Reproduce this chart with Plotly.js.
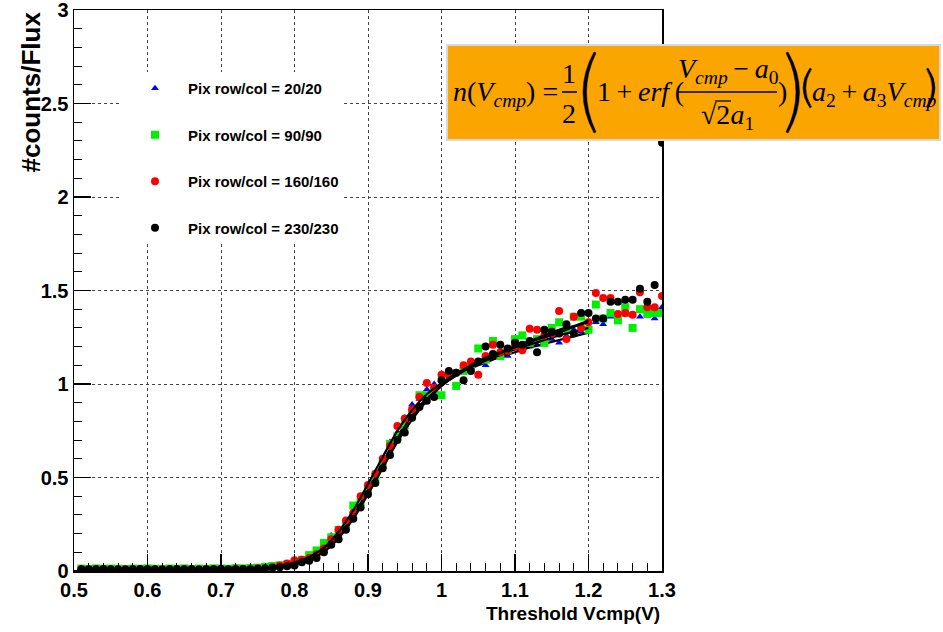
<!DOCTYPE html>
<html>
<head>
<meta charset="utf-8">
<script src="https://cdn.plot.ly/plotly-3.0.1.min.js"></script>
<style>html,body{margin:0;padding:0;background:#fff;}#chart{width:943px;height:632px;}</style>
</head>
<body>
<div id="chart"></div>
<script>
// ---- data ----
const vcmp = [0.51,0.52,0.53,0.54,0.55,0.56,0.57,0.58,0.59,0.60,
  0.61,0.62,0.63,0.64,0.65,0.66,0.67,0.68,0.69,0.70,
  0.71,0.72,0.73,0.74,0.75,0.76,0.77,0.78,0.79,0.80,
  0.81,0.82,0.83,0.84,0.85,0.86,0.87,0.88,0.89,0.90,
  0.91,0.92,0.93,0.94,0.95,0.96,0.97,0.98,0.99,1.00,
  1.01,1.02,1.03,1.04,1.05,1.06,1.07,1.08,1.09,1.10,
  1.11,1.12,1.13,1.14,1.15,1.16,1.17,1.18,1.19,1.20,
  1.21,1.22,1.23,1.24,1.25,1.26,1.27,1.28,1.29,1.30];

const pix20 = [0.010,0.009,0.010,0.004,0.010,0.011,0.009,0.010,0.008,0.010,
  0.009,0.011,0.010,0.009,0.010,0.008,0.011,0.010,0.009,0.010,
  0.012,0.010,0.011,0.013,0.015,0.018,0.020,0.026,0.032,0.042,
  0.055,0.072,0.100,0.130,0.190,0.220,0.260,0.320,0.380,0.450,
  0.500,0.600,0.690,0.740,0.820,0.890,0.920,0.970,1.000,1.020,
  1.040,1.060,1.090,1.080,1.120,1.100,1.150,1.160,1.150,1.190,
  1.200,1.200,1.210,1.230,1.240,1.220,1.260,1.290,1.280,1.300,
  1.330,1.320,1.360,1.350,1.370,1.370,1.360,1.390,1.350,1.410];

const pix90 = [0.013,0.011,0.014,0.012,0.013,0.012,0.011,0.013,0.012,0.014,
  0.012,0.011,0.013,0.012,0.014,0.011,0.013,0.012,0.014,0.013,
  0.012,0.015,0.014,0.016,0.018,0.022,0.027,0.030,0.035,0.045,
  0.060,0.085,0.110,0.150,0.180,0.220,0.250,0.350,0.370,0.440,
  0.500,0.570,0.680,0.720,0.780,0.840,0.940,0.940,0.970,0.940,
  1.050,0.990,1.070,1.090,1.190,1.130,1.230,1.150,1.180,1.240,
  1.260,1.220,1.240,1.220,1.300,1.330,1.290,1.360,1.360,1.290,
  1.425,1.350,1.380,1.340,1.410,1.300,1.400,1.375,1.380,1.380];

const pix160 = [0.010,0.006,0.009,0.010,0.008,0.003,0.010,0.009,0.004,0.010,
  0.008,0.010,0.009,0.003,0.010,0.009,0.008,0.010,0.009,0.011,
  0.006,0.012,0.009,0.010,0.015,0.014,0.020,0.030,0.040,0.057,
  0.060,0.070,0.090,0.120,0.170,0.220,0.270,0.310,0.400,0.460,
  0.520,0.600,0.670,0.775,0.815,0.865,0.930,1.005,0.980,1.050,
  1.050,1.060,1.100,1.120,1.050,1.150,1.210,1.170,1.180,1.200,
  1.180,1.295,1.290,1.260,1.270,1.390,1.240,1.360,1.300,1.330,
  1.486,1.460,1.460,1.375,1.380,1.370,1.490,1.410,1.410,1.470];

const pix230 = [0.010,0.009,0.010,0.011,0.009,0.010,0.008,0.010,0.011,0.009,
  0.010,0.008,0.010,0.011,0.009,0.010,0.008,0.009,0.010,0.011,
  0.009,0.010,0.011,0.010,0.012,0.015,0.018,0.020,0.025,0.030,
  0.047,0.055,0.070,0.100,0.140,0.170,0.220,0.280,0.340,0.410,
  0.470,0.550,0.620,0.700,0.740,0.820,0.877,0.910,0.930,1.020,
  1.070,1.060,1.020,1.070,1.120,1.200,1.160,1.210,1.190,1.220,
  1.210,1.230,1.170,1.290,1.280,1.270,1.320,1.270,1.380,1.380,
  1.350,1.350,1.440,1.440,1.450,1.450,1.510,1.440,1.530,2.290];

// fitted curves
const fitV = [0.50,0.52,0.54,0.56,0.58,0.60,0.62,0.64,0.66,0.68,
  0.70,0.72,0.74,0.76,0.78,0.80,0.82,0.84,0.86,0.88,
  0.90,0.92,0.94,0.96,0.98,1.00,1.02,1.04,1.06,1.08,
  1.10,1.12,1.14,1.16,1.18,1.20];
const fit20 = [0,0,0,0,0,0.001,0.001,0.002,0.002,0.003,
  0.004,0.006,0.010,0.015,0.024,0.040,0.068,0.115,0.195,0.300,
  0.440,0.580,0.720,0.835,0.925,0.995,1.045,1.085,1.115,1.145,
  1.170,1.195,1.215,1.235,1.255,1.275];
const fit90 = [0,0,0,0,0,0.001,0.001,0.002,0.002,0.003,
  0.004,0.006,0.010,0.016,0.025,0.041,0.068,0.112,0.190,0.295,
  0.430,0.570,0.710,0.830,0.920,0.990,1.045,1.090,1.125,1.155,
  1.185,1.210,1.235,1.260,1.280,1.300];
const fit160 = [0,0,0,0,0,0.001,0.001,0.002,0.002,0.003,
  0.005,0.007,0.011,0.017,0.027,0.045,0.075,0.125,0.210,0.325,
  0.465,0.610,0.750,0.860,0.945,1.005,1.055,1.095,1.130,1.165,
  1.195,1.225,1.250,1.275,1.305,1.330];
const fit230 = [0,0,0,0,0,0.001,0.001,0.001,0.002,0.002,
  0.003,0.005,0.008,0.013,0.021,0.036,0.060,0.102,0.175,0.280,
  0.410,0.550,0.690,0.810,0.910,0.990,1.050,1.100,1.140,1.170,
  1.200,1.230,1.260,1.290,1.310,1.340];

const seriesNames = ['Pix row/col = 20/20','Pix row/col = 90/90','Pix row/col = 160/160','Pix row/col = 230/230'];
const xTickVals = [0.5,0.6,0.7,0.8,0.9,1.0,1.1,1.2,1.3];
const xTickText = ['0.5','0.6','0.7','0.8','0.9','1','1.1','1.2','1.3'];
const yTickVals = [0,0.5,1,1.5,2,2.5,3];
const yTickText = ['0','0.5','1','1.5','2','2.5','3'];
const xTitle = 'Threshold Vcmp(V)';
const yTitle = '#counts/Flux';

// ---- styling ----
const pts = [pix20, pix90, pix160, pix230];
const fits = [fit20, fit90, fit160, fit230];
const colors = ['#0000ff','#00ee00','#ff0000','#000000'];
const symbols = ['triangle-up','square','circle','circle'];
const sizes = [7,8,8,8];

const traces = [];
for (let i = 0; i < 4; i++) {
  traces.push({
    x: vcmp, y: pts[i], type: 'scatter', mode: 'markers', name: seriesNames[i],
    legendgroup: 'g' + i,
    marker: {color: colors[i], symbol: symbols[i], size: sizes[i], line: {width: 0}},
    hoverinfo: 'x+y'
  });
  traces.push({
    x: fitV, y: fits[i], type: 'scatter', mode: 'lines', showlegend: false,
    legendgroup: 'g' + i,
    line: {color: '#000', width: 2.2, shape: 'spline', smoothing: 0.8},
    hoverinfo: 'skip'
  });
}

// pixel -> paper helpers (plot area 74..662 x 10..571)
const PX = p => (p - 74) / 588;
const PY = p => (571 - p) / 561;

const serif = {family: 'Liberation Serif, "Times New Roman", serif', size: 28, color: '#000'};
const TH = '\u2009';
function txt(text, px, pyTop, anchor, size) {
  return {text: text, x: PX(px), y: PY(pyTop), xref: 'paper', yref: 'paper',
    xanchor: anchor, yanchor: 'top', showarrow: false, borderpad: 0,
    font: Object.assign({}, serif, size ? {size: size} : {})};
}
function path(cmds) {
  return cmds.map(c => {
    let s = c[0];
    for (let k = 1; k < c.length; k += 2) s += ' ' + PX(c[k]).toFixed(5) + ',' + PY(c[k + 1]).toFixed(5);
    return s;
  }).join(' ') + ' Z';
}
function pshape(cmds) {
  return {type: 'path', xref: 'paper', yref: 'paper', layer: 'above', path: path(cmds),
    fillcolor: '#000', line: {color: '#000', width: 0.5}};
}
function lshape(x0, y0, x1, y1, w) {
  return {type: 'line', xref: 'paper', yref: 'paper', layer: 'above',
    x0: PX(x0), y0: PY(y0), x1: PX(x1), y1: PY(y1), line: {color: '#000', width: w || 1.6}};
}

const shapes = [
  {type: 'rect', xref: 'paper', yref: 'paper', layer: 'above',
    x0: PX(447), x1: PX(940), y0: PY(140), y1: PY(45),
    fillcolor: '#fba600', line: {color: '#d9d9d9', width: 2}},
  lshape(562, 92, 577, 92),
  lshape(678, 92, 777, 92),
  lshape(715, 101, 731, 101, 1.3),
  // big parentheses
  pshape([['M', 594, 52], ['Q', 572, 92, 594, 133], ['L', 596, 132], ['Q', 577, 92, 596, 53]]),
  pshape([['M', 788, 52], ['Q', 811, 92, 788, 133], ['L', 786, 132], ['Q', 806, 92, 786, 53]]),
  // medium parentheses
  pshape([['M', 810, 68], ['Q', 796, 88, 810, 108], ['L', 811.5, 107], ['Q', 800, 88, 811.5, 69]]),
  pshape([['M', 928, 68], ['Q', 942, 88, 928, 108], ['L', 926.5, 107], ['Q', 938, 88, 926.5, 69]])
];

const annotations = [
  txt('<i>n</i>(<i>V<sub>cmp</sub></i>)' + ' =', 452, 75, 'left'),
  txt('1', 569, 57, 'center'),
  txt('2', 569, 97, 'center'),
  txt('1' + TH + '+' + TH + '<i>erf</i>' + TH + '(', 596, 75, 'left'),
  txt('<i>V<sub>cmp</sub></i>' + TH + '\u2212' + TH + '<i>a</i><sub>0</sub>', 728, 52, 'center'),
  txt('\u221A2<i>a</i><sub>1</sub>', 727, 98, 'center'),
  txt(')', 777, 75, 'left'),
  txt('<i>a</i><sub>2</sub>' + TH + '+' + TH + '<i>a</i><sub>3</sub><i>V<sub>cmp</sub></i>', 811, 75, 'left'),
  {text: yTitle, x: PX(30), y: PY(10), xref: 'paper', yref: 'paper', xanchor: 'center', yanchor: 'top',
    textangle: -90, showarrow: false,
    font: {family: 'Liberation Sans, Arial, sans-serif', size: 26, weight: 'bold', color: '#000'}},
  {text: xTitle, x: 1, y: PY(601), xref: 'paper', yref: 'paper', xanchor: 'right', yanchor: 'top',
    showarrow: false,
    font: {family: 'Liberation Sans, Arial, sans-serif', size: 19, weight: 'bold', color: '#000'}}
];

const tickFont = {family: 'Liberation Sans, Arial, sans-serif', size: 20, weight: 'bold', color: '#000'};
const layout = {
  width: 943, height: 632,
  margin: {l: 74, r: 281, t: 10, b: 61, pad: 0},
  paper_bgcolor: '#fff', plot_bgcolor: '#fff',
  showlegend: true,
  legend: {x: PX(122), y: PY(72), xanchor: 'left', yanchor: 'top', bgcolor: '#fff', borderwidth: 0,
    traceorder: 'grouped', tracegroupgap: 24, itemwidth: 56,
    font: {family: 'Liberation Sans, Arial, sans-serif', size: 15, weight: 'bold', color: '#000'}},
  xaxis: {range: [0.5, 1.3], tickvals: xTickVals, ticktext: xTickText, ticks: 'inside', ticklen: 17,
    tickwidth: 1.5, tickcolor: '#000', showline: true, linecolor: '#000', linewidth: 1.5, mirror: true,
    showgrid: true, gridcolor: '#444', griddash: 'dot', gridwidth: 1, zeroline: false,
    tickfont: tickFont, fixedrange: true, ticklabeloverflow: 'allow',
    minor: {dtick: 0.02, tick0: 0.5, ticks: 'inside', ticklen: 8, tickcolor: '#000', tickwidth: 1, showgrid: false}},
  yaxis: {range: [0, 3], tickvals: yTickVals, ticktext: yTickText, ticks: 'inside', ticklen: 17,
    tickwidth: 1.5, tickcolor: '#000', showline: true, linecolor: '#000', linewidth: 1.5, mirror: true,
    showgrid: true, gridcolor: '#444', griddash: 'dot', gridwidth: 1, zeroline: false,
    tickfont: tickFont, fixedrange: true, ticklabeloverflow: 'allow',
    minor: {dtick: 0.1, tick0: 0, ticks: 'inside', ticklen: 8, tickcolor: '#000', tickwidth: 1, showgrid: false}},
  shapes: shapes,
  annotations: annotations
};

Plotly.newPlot('chart', traces, layout, {displayModeBar: false, staticPlot: true});
</script>
</body>
</html>
